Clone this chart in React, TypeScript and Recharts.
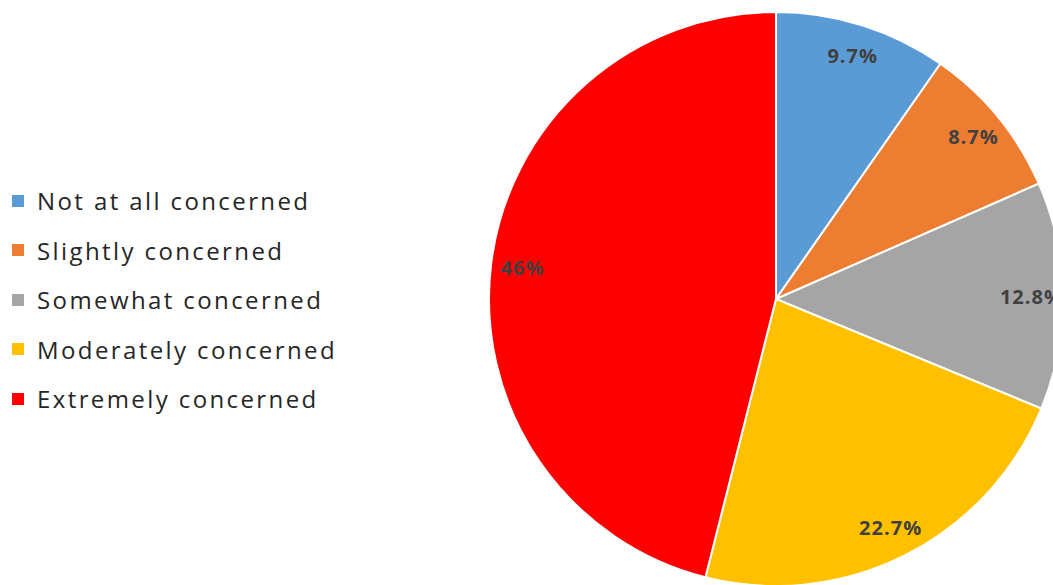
import { PieChart, Pie, Cell } from "recharts"

const categories = [
  "Not at all concerned",
  "Slightly concerned",
  "Somewhat concerned",
  "Moderately concerned",
  "Extremely concerned",
]
const percents = [9.7, 8.7, 12.8, 22.7, 46]
const colors = ["#5B9BD5", "#ED7D31", "#A5A5A5", "#FFC000", "#FF0000"]

const data = categories.map((name, i) => ({ name, value: percents[i] }))

const RAD = Math.PI / 180
const FONT = "'Open Sans', 'Liberation Sans', sans-serif"

function renderLabel(props: any) {
  const { cx, cy, midAngle, outerRadius, value } = props
  const r = outerRadius * 0.89
  const x = cx + r * Math.cos(-midAngle * RAD)
  const y = cy + r * Math.sin(-midAngle * RAD)
  return (
    <text
      x={x}
      y={y}
      fill="#404040"
      fontSize={20}
      fontWeight="bold"
      fontFamily={FONT}
      letterSpacing={1}
      textAnchor="middle"
      dominantBaseline="central"
    >
      {value}%
    </text>
  )
}

export default function App() {
  return (
    <div style={{ position: "fixed", left: 0, top: 0, width: 1053, height: 585, background: "#fff" }}>
      <PieChart width={1053} height={585} margin={{ top: 0, right: 0, bottom: 0, left: 0 }}>
        <Pie
          data={data}
          dataKey="value"
          nameKey="name"
          cx={776}
          cy={299}
          outerRadius={287}
          startAngle={90}
          endAngle={-270}
          stroke="#fff"
          strokeWidth={2}
          label={renderLabel}
          labelLine={false}
          isAnimationActive={false}
        >
          {data.map((d, i) => (
            <Cell key={d.name} fill={colors[i]} />
          ))}
        </Pie>
      </PieChart>
      <div style={{ position: "absolute", left: 12, top: 176, fontFamily: FONT }}>
        {categories.map((c, i) => (
          <div
            key={c}
            style={{
              display: "flex",
              alignItems: "center",
              height: 49.5,
              fontSize: 24,
              letterSpacing: 2.4,
              color: "#262626",
            }}
          >
            <span style={{ width: 12, height: 12, background: colors[i], marginRight: 13, display: "inline-block" }} />
            <span>{c}</span>
          </div>
        ))}
      </div>
    </div>
  )
}
